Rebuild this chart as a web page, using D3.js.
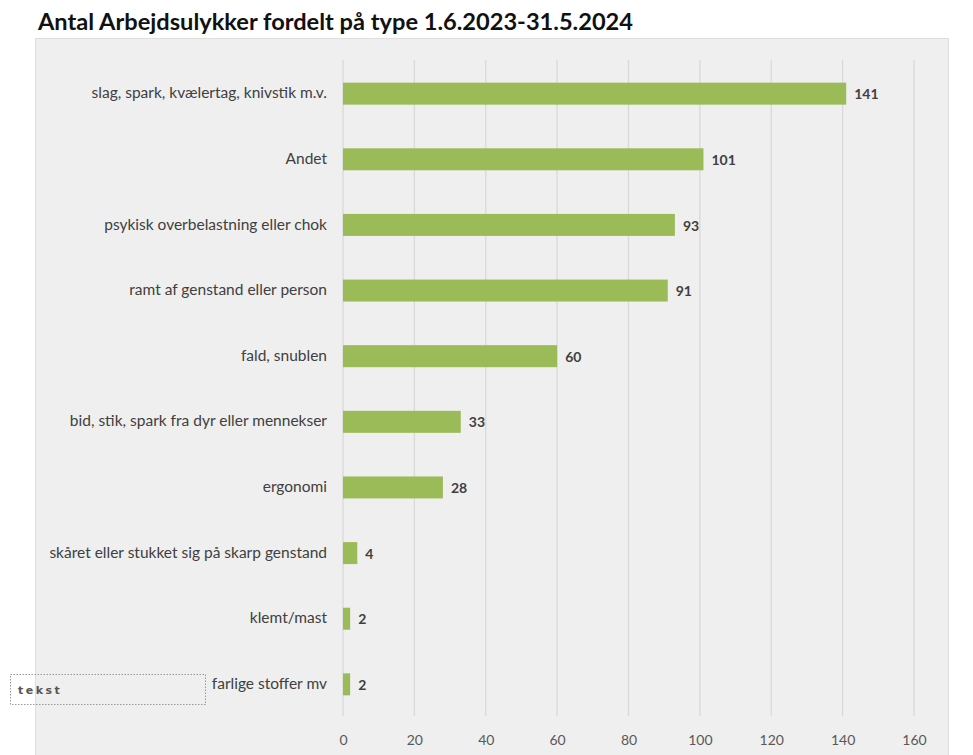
<!DOCTYPE html>
<html><head><meta charset="utf-8">
<script src="https://cdn.jsdelivr.net/npm/d3@7"></script>
<style>body{margin:0;background:#fff}svg{display:block}</style>
</head><body>
<script>
const categories = ["slag, spark, kvælertag, knivstik m.v.","Andet","psykisk overbelastning eller chok","ramt af genstand eller person","fald, snublen","bid, stik, spark fra dyr eller mennekser","ergonomi","skåret eller stukket sig på skarp genstand","klemt/mast","farlige stoffer mv"];
const values = [141,101,93,91,60,33,28,4,2,2];
const ticks = [0,20,40,60,80,100,120,140,160];
const title = "Antal Arbejdsulykker fordelt på type 1.6.2023-31.5.2024";

const W=973,H=755;
const svg=d3.select("body").append("svg").attr("width",W).attr("height",H);
svg.append("rect").attr("x",35.5).attr("y",38.5).attr("width",913).attr("height",720).attr("fill","#efefef").attr("stroke","#dedede");
svg.append("text").attr("x",38).attr("y",30).text(title).attr("font-family","Lato").attr("font-weight","bold").attr("font-size",22)
 .attr("textLength",595).attr("lengthAdjust","spacingAndGlyphs").attr("fill","#111");

const x=d3.scaleLinear().domain([0,160]).range([343,914]);
const y=d3.scaleBand().domain(categories).range([61,717]).paddingInner(0.665).paddingOuter(0.33);

const g=svg.append("g");
g.selectAll("line.grid").data(ticks).join("line").attr("class","grid")
 .attr("x1",d=>x(d)).attr("x2",d=>x(d)).attr("y1",60).attr("y2",716)
 .attr("stroke","#d9d9d9").attr("stroke-width",1.3);

const ax=svg.append("g").attr("transform","translate(0,716)")
 .call(d3.axisBottom(x).tickValues(ticks).tickSize(0).tickPadding(19));
ax.select(".domain").remove();
ax.selectAll("text").attr("font-family","Lato").attr("font-size",14).attr("fill","#595959");

g.selectAll("rect.bar").data(values).join("rect").attr("class","bar")
 .attr("x",x(0)).attr("y",(d,i)=>y(categories[i])).attr("height",y.bandwidth())
 .attr("width",d=>x(d)-x(0)).attr("fill","#9bbb59");

g.selectAll("text.val").data(values).join("text").attr("class","val")
 .attr("x",d=>x(d)+8).attr("y",(d,i)=>y(categories[i])+y.bandwidth()/2).attr("dy","0.4em")
 .text(d=>d).attr("font-family","Lato").attr("font-weight","bold").attr("font-size",14).attr("fill","#404040");

g.selectAll("text.cat").data(categories).join("text").attr("class","cat")
 .attr("x",327).attr("y",d=>y(d)+y.bandwidth()/2).attr("dy","0.3em").attr("text-anchor","end")
 .text(d=>d).attr("font-family","Lato").attr("font-size",15.5).attr("fill","#404040");

svg.append("rect").attr("x",10.5).attr("y",674.5).attr("width",195).attr("height",30)
 .attr("fill","none").attr("stroke","#999").attr("stroke-dasharray","1.5,1.5");
svg.append("text").attr("x",18).attr("y",694).text("tekst").attr("font-family","DejaVu Sans").attr("font-size",11).attr("font-weight","bold")
 .attr("letter-spacing",2.5).attr("fill","#555");
</script>
</body></html>
